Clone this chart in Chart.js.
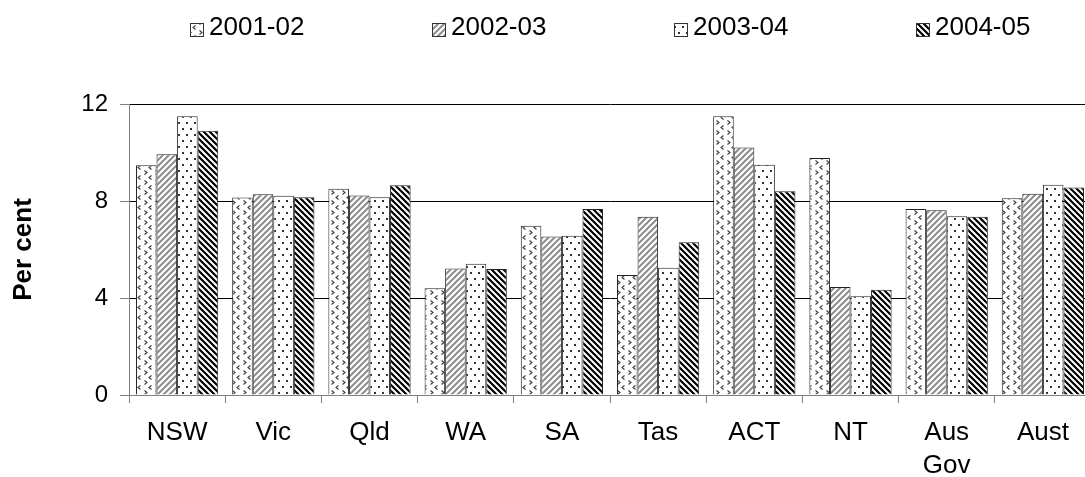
<!DOCTYPE html>
<html>
<head>
<meta charset="utf-8">
<script src="https://cdn.jsdelivr.net/npm/chart.js@4"></script>
<style>
  html, body { margin: 0; padding: 0; background: #fff; overflow: hidden; }
  #wrap { position: relative; width: 1092px; height: 477px; }
</style>
</head>
<body>
<div id="wrap"><canvas id="chart"></canvas></div>
<script>
const categories = ["NSW", "Vic", "Qld", "WA", "SA", "Tas", "ACT", "NT", ["Aus", "Gov"], "Aust"];
const seriesLabels = ["2001-02", "2002-03", "2003-04", "2004-05"];

const values0102 = [9.47, 8.14, 8.51, 4.40, 6.98, 4.95, 11.49, 9.77, 7.67, 8.11];
const values0203 = [9.93, 8.28, 8.23, 5.22, 6.54, 7.35, 10.21, 4.45, 7.62, 8.30];
const values0304 = [11.50, 8.22, 8.15, 5.41, 6.57, 5.25, 9.50, 4.07, 7.37, 8.67];
const values0405 = [10.90, 8.15, 8.65, 5.20, 7.67, 6.30, 8.40, 4.34, 7.35, 8.56];

const yTicks = [0, 4, 8, 12];

const FONT = "'Liberation Sans', Arial, sans-serif";

// little tiles for the bar fills
const makeTile = (w, h, draw) => {
  const c = document.createElement("canvas");
  c.width = w;
  c.height = h;
  const g = c.getContext("2d");
  g.fillStyle = "#fff";
  g.fillRect(0, 0, w, h);
  draw(g);
  return document.createElement("canvas").getContext("2d").createPattern(c, "repeat");
};

const chevrons = makeTile(11, 10, (g) => {
  g.strokeStyle = "#3a3a3a";
  g.lineWidth = 1.1;
  g.beginPath();
  g.moveTo(1.5, 0.5); g.lineTo(4, 2.5); g.lineTo(1.5, 4.5);
  g.moveTo(8.5, 5.5); g.lineTo(6, 7.5); g.lineTo(8.5, 9.5);
  g.stroke();
});

const grayHatch = makeTile(6, 6, (g) => {
  g.strokeStyle = "#8c8c8c";
  g.lineWidth = 2;
  g.beginPath();
  g.moveTo(-1, 7); g.lineTo(7, -1);
  g.moveTo(-4, 4); g.lineTo(4, -4);
  g.moveTo(2, 10); g.lineTo(10, 2);
  g.stroke();
});

const dots = makeTile(8, 12, (g) => {
  g.fillStyle = "#333";
  g.fillRect(2, 2, 2, 2);
  g.fillRect(6, 8, 2, 2);
});

const blackHatch = makeTile(6, 6, (g) => {
  g.strokeStyle = "#000";
  g.lineWidth = 2.2;
  g.beginPath();
  g.moveTo(-1, -1); g.lineTo(7, 7);
  g.moveTo(-4, 2); g.lineTo(4, 10);
  g.moveTo(2, -4); g.lineTo(10, 4);
  g.stroke();
});

const fills = [chevrons, grayHatch, dots, blackHatch];
const seriesValues = [values0102, values0203, values0304, values0405];

// legend drawn along the top, spaced like the original
const topLegend = {
  id: "topLegend",
  afterDraw(chart) {
    const ctx = chart.ctx;
    ctx.save();
    ctx.font = "26px " + FONT;
    ctx.textBaseline = "alphabetic";
    ctx.textAlign = "left";
    chart.data.datasets.forEach((ds, i) => {
      const x = 190 + i * 242;
      ctx.fillStyle = ds.backgroundColor;
      ctx.fillRect(x, 23, 13, 13);
      ctx.strokeStyle = "#333";
      ctx.lineWidth = 1;
      ctx.strokeRect(x + 0.5, 23.5, 13, 13);
      ctx.fillStyle = "#000";
      ctx.fillText(ds.label, x + 19, 35);
    });
    ctx.restore();
  },
};

const ctx = document.getElementById("chart").getContext("2d");
const chart = new Chart(ctx, {
  type: "bar",
  data: {
    labels: categories,
    datasets: seriesLabels.map((label, i) => ({
      label: label,
      data: seriesValues[i],
      backgroundColor: fills[i],
      borderColor: "#222",
      borderWidth: 1,
      barPercentage: 1,
      categoryPercentage: 0.855,
    })),
  },
  options: {
    responsive: true,
    maintainAspectRatio: false,
    animation: false,
    devicePixelRatio: 1,
    layout: { padding: { left: 4, top: 104, right: 1, bottom: 0 } },
    plugins: {
      legend: { display: false },
      tooltip: { enabled: false },
    },
    scales: {
      x: {
        grid: {
          offset: true,
          drawOnChartArea: false,
          drawTicks: true,
          tickLength: 8,
          tickColor: "#808080",
        },
        border: { color: "#808080", width: 1 },
        ticks: {
          color: "#000",
          font: { family: FONT, size: 26, lineHeight: 1.27 },
          padding: 13,
          maxRotation: 0,
          autoSkip: false,
        },
        afterFit: (scale) => { scale.height = 82; },
      },
      y: {
        min: 0,
        max: 12,
        afterBuildTicks: (scale) => { scale.ticks = yTicks.map((v) => ({ value: v })); },
        grid: {
          color: (c) => (c.tick && c.tick.value === 0 ? "#808080" : "#000"),
          tickColor: "#808080",
          tickLength: 9,
          lineWidth: 1,
        },
        border: { color: "#808080", width: 1 },
        ticks: {
          color: "#000",
          font: { family: FONT, size: 24 },
          padding: 12,
        },
        title: {
          display: true,
          text: "Per cent",
          color: "#000",
          font: { family: FONT, size: 26, weight: "bold" },
          padding: { top: 4, bottom: 0 },
        },
        afterFit: (scale) => { scale.width = 125; },
      },
    },
  },
  plugins: [topLegend],
});
</script>
</body>
</html>
